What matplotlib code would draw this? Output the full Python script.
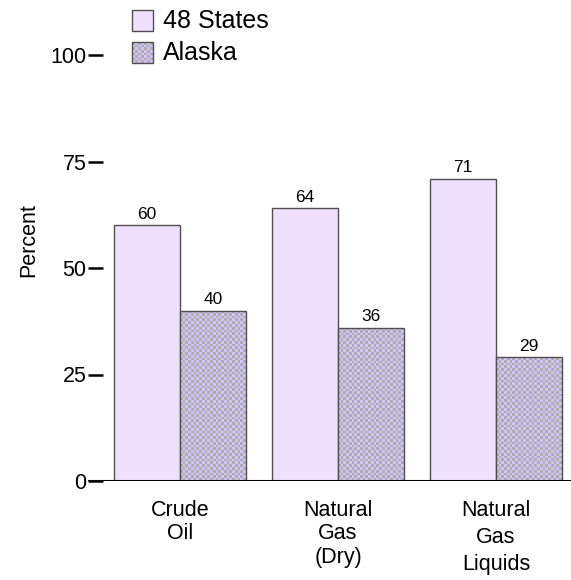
import numpy as np
import matplotlib
matplotlib.use("Agg")
import matplotlib.pyplot as plt
from matplotlib.patches import Rectangle

plt.rcParams['font.family'] = ['Liberation Sans', 'DejaVu Sans']

# data
categories = ["Crude\nOil", "Natural\nGas\n(Dry)", "Natural\nGas\nLiquids"]
states48 = [60, 64, 71]
alaska = [40, 36, 29]
series_names = ["48 States", "Alaska"]
yticks = [0, 25, 50, 75, 100]

light = "#EFE1FD"
chk_a = "#D4C2FA"
chk_b = "#ADADAD"
edge = "#505050"

W, H = 571, 580
fig = plt.figure(figsize=(W / 100, H / 100), dpi=100)
ax = fig.add_axes([88 / W, (H - 481) / H, (W - 88) / W, 481 / H])

px_x = 158.0       # pixels per x unit
px_y = 106.5 / 25  # pixels per y unit
ax.set_xlim(-92 / px_x, (W - 180) / px_x)
ax.set_ylim(0, 481 / px_y)

bw = 66 / px_x
x = np.arange(len(categories))


def checker(x0, y0, w, h, zorder=2):
    rect = Rectangle((x0, y0), w, h, facecolor="none", edgecolor=edge,
                     linewidth=1.0, zorder=zorder + 1)
    ax.add_patch(rect)
    cell = 2.8
    nx = max(1, int(round(w * px_x / cell)))
    ny = max(1, int(round(h * px_y / cell)))
    img = (np.add.outer(np.arange(ny), np.arange(nx)) % 2).astype(float)
    cmap = matplotlib.colors.ListedColormap([chk_a, chk_b])
    im = ax.imshow(img, cmap=cmap, extent=(x0, x0 + w, y0, y0 + h),
                   interpolation="nearest", aspect="auto", zorder=zorder,
                   origin="lower")
    im.set_clip_path(rect)
    return rect


for i in range(len(categories)):
    ax.bar(x[i] - bw / 2, states48[i], width=bw, color=light, edgecolor=edge,
           linewidth=1.0, zorder=2)
    checker(x[i], 0, bw, alaska[i])
    ax.text(x[i] - bw / 2, states48[i] + 0.9, str(states48[i]), ha="center",
            va="bottom", fontsize=12.5)
    ax.text(x[i] + bw / 2, alaska[i] + 0.9, str(alaska[i]), ha="center",
            va="bottom", fontsize=12.5)

# baseline
ax.axhline(0, color="black", linewidth=2.2, zorder=5)

for s in ax.spines.values():
    s.set_visible(False)
ax.set_xticks([])
ax.set_yticks(yticks)
ax.tick_params(axis="y", direction="in", length=11, width=1.8, pad=1.0,
               labelsize=15.5)
ax.set_ylabel("Percent", fontsize=15.5, labelpad=8)

# category labels
spacing = [1.12, 1.14, 1.38]
for i, c in enumerate(categories):
    ax.text(x[i], -4.5, c, ha="center", va="top", fontsize=15.5,
            linespacing=spacing[i])

# legend
lx = (132 - 180) / px_x
sz_w = 21 / px_x
sz_h = 21 / px_y
ax.add_patch(Rectangle((lx, (481 - 31) / px_y), sz_w, sz_h, facecolor=light,
                       edgecolor=edge, linewidth=1.0, zorder=3))
checker(lx, (481 - 63) / px_y, sz_w, sz_h, zorder=3)
ax.text((163 - 180) / px_x, (481 - 21) / px_y, series_names[0], fontsize=18,
        va="center", ha="left")
ax.text((163 - 180) / px_x, (481 - 53) / px_y, series_names[1], fontsize=18,
        va="center", ha="left")

fig.savefig("out.png", dpi=100)
